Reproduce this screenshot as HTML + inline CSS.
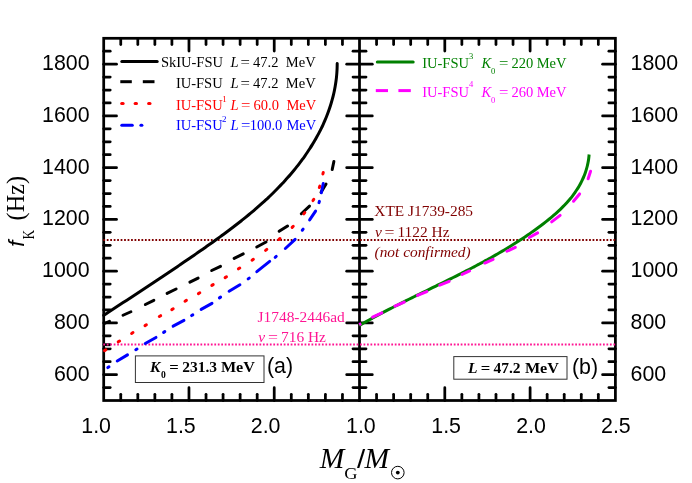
<!DOCTYPE html>
<html><head><meta charset="utf-8"><title>fK vs MG</title>
<style>html,body{margin:0;padding:0;background:#fff}svg{display:block;will-change:transform}</style></head>
<body>
<svg width="692" height="483" viewBox="0 0 692 483">
<rect width="692" height="483" fill="#fff"/>
<g stroke="#000" stroke-width="2.75" fill="none" stroke-linecap="round">
<line x1="120.75" y1="38.3" x2="120.75" y2="44.5"/>
<line x1="120.75" y1="400.5" x2="120.75" y2="394.3"/>
<line x1="137.81" y1="38.3" x2="137.81" y2="44.5"/>
<line x1="137.81" y1="400.5" x2="137.81" y2="394.3"/>
<line x1="154.86" y1="38.3" x2="154.86" y2="44.5"/>
<line x1="154.86" y1="400.5" x2="154.86" y2="394.3"/>
<line x1="171.91" y1="38.3" x2="171.91" y2="44.5"/>
<line x1="171.91" y1="400.5" x2="171.91" y2="394.3"/>
<line x1="188.97" y1="38.3" x2="188.97" y2="51.099999999999994"/>
<line x1="188.97" y1="400.5" x2="188.97" y2="387.7"/>
<line x1="206.02" y1="38.3" x2="206.02" y2="44.5"/>
<line x1="206.02" y1="400.5" x2="206.02" y2="394.3"/>
<line x1="223.07" y1="38.3" x2="223.07" y2="44.5"/>
<line x1="223.07" y1="400.5" x2="223.07" y2="394.3"/>
<line x1="240.13" y1="38.3" x2="240.13" y2="44.5"/>
<line x1="240.13" y1="400.5" x2="240.13" y2="394.3"/>
<line x1="257.18" y1="38.3" x2="257.18" y2="44.5"/>
<line x1="257.18" y1="400.5" x2="257.18" y2="394.3"/>
<line x1="274.23" y1="38.3" x2="274.23" y2="51.099999999999994"/>
<line x1="274.23" y1="400.5" x2="274.23" y2="387.7"/>
<line x1="291.29" y1="38.3" x2="291.29" y2="44.5"/>
<line x1="291.29" y1="400.5" x2="291.29" y2="394.3"/>
<line x1="308.34" y1="38.3" x2="308.34" y2="44.5"/>
<line x1="308.34" y1="400.5" x2="308.34" y2="394.3"/>
<line x1="325.39" y1="38.3" x2="325.39" y2="44.5"/>
<line x1="325.39" y1="400.5" x2="325.39" y2="394.3"/>
<line x1="342.45" y1="38.3" x2="342.45" y2="44.5"/>
<line x1="342.45" y1="400.5" x2="342.45" y2="394.3"/>
<line x1="376.56" y1="38.3" x2="376.56" y2="44.5"/>
<line x1="376.56" y1="400.5" x2="376.56" y2="394.3"/>
<line x1="393.62" y1="38.3" x2="393.62" y2="44.5"/>
<line x1="393.62" y1="400.5" x2="393.62" y2="394.3"/>
<line x1="410.68" y1="38.3" x2="410.68" y2="44.5"/>
<line x1="410.68" y1="400.5" x2="410.68" y2="394.3"/>
<line x1="427.74" y1="38.3" x2="427.74" y2="44.5"/>
<line x1="427.74" y1="400.5" x2="427.74" y2="394.3"/>
<line x1="444.80" y1="38.3" x2="444.80" y2="51.099999999999994"/>
<line x1="444.80" y1="400.5" x2="444.80" y2="387.7"/>
<line x1="461.86" y1="38.3" x2="461.86" y2="44.5"/>
<line x1="461.86" y1="400.5" x2="461.86" y2="394.3"/>
<line x1="478.92" y1="38.3" x2="478.92" y2="44.5"/>
<line x1="478.92" y1="400.5" x2="478.92" y2="394.3"/>
<line x1="495.98" y1="38.3" x2="495.98" y2="44.5"/>
<line x1="495.98" y1="400.5" x2="495.98" y2="394.3"/>
<line x1="513.04" y1="38.3" x2="513.04" y2="44.5"/>
<line x1="513.04" y1="400.5" x2="513.04" y2="394.3"/>
<line x1="530.10" y1="38.3" x2="530.10" y2="51.099999999999994"/>
<line x1="530.10" y1="400.5" x2="530.10" y2="387.7"/>
<line x1="547.16" y1="38.3" x2="547.16" y2="44.5"/>
<line x1="547.16" y1="400.5" x2="547.16" y2="394.3"/>
<line x1="564.22" y1="38.3" x2="564.22" y2="44.5"/>
<line x1="564.22" y1="400.5" x2="564.22" y2="394.3"/>
<line x1="581.28" y1="38.3" x2="581.28" y2="44.5"/>
<line x1="581.28" y1="400.5" x2="581.28" y2="394.3"/>
<line x1="598.34" y1="38.3" x2="598.34" y2="44.5"/>
<line x1="598.34" y1="400.5" x2="598.34" y2="394.3"/>
<line x1="103.7" y1="387.56" x2="110.2" y2="387.56"/>
<line x1="353.0" y1="387.56" x2="366.0" y2="387.56"/>
<line x1="608.9" y1="387.56" x2="615.4" y2="387.56"/>
<line x1="103.7" y1="374.63" x2="116.5" y2="374.63"/>
<line x1="346.7" y1="374.63" x2="372.3" y2="374.63"/>
<line x1="602.6" y1="374.63" x2="615.4" y2="374.63"/>
<line x1="103.7" y1="361.69" x2="110.2" y2="361.69"/>
<line x1="353.0" y1="361.69" x2="366.0" y2="361.69"/>
<line x1="608.9" y1="361.69" x2="615.4" y2="361.69"/>
<line x1="103.7" y1="348.76" x2="110.2" y2="348.76"/>
<line x1="353.0" y1="348.76" x2="366.0" y2="348.76"/>
<line x1="608.9" y1="348.76" x2="615.4" y2="348.76"/>
<line x1="103.7" y1="335.82" x2="110.2" y2="335.82"/>
<line x1="353.0" y1="335.82" x2="366.0" y2="335.82"/>
<line x1="608.9" y1="335.82" x2="615.4" y2="335.82"/>
<line x1="103.7" y1="322.89" x2="116.5" y2="322.89"/>
<line x1="346.7" y1="322.89" x2="372.3" y2="322.89"/>
<line x1="602.6" y1="322.89" x2="615.4" y2="322.89"/>
<line x1="103.7" y1="309.95" x2="110.2" y2="309.95"/>
<line x1="353.0" y1="309.95" x2="366.0" y2="309.95"/>
<line x1="608.9" y1="309.95" x2="615.4" y2="309.95"/>
<line x1="103.7" y1="297.01" x2="110.2" y2="297.01"/>
<line x1="353.0" y1="297.01" x2="366.0" y2="297.01"/>
<line x1="608.9" y1="297.01" x2="615.4" y2="297.01"/>
<line x1="103.7" y1="284.08" x2="110.2" y2="284.08"/>
<line x1="353.0" y1="284.08" x2="366.0" y2="284.08"/>
<line x1="608.9" y1="284.08" x2="615.4" y2="284.08"/>
<line x1="103.7" y1="271.14" x2="116.5" y2="271.14"/>
<line x1="346.7" y1="271.14" x2="372.3" y2="271.14"/>
<line x1="602.6" y1="271.14" x2="615.4" y2="271.14"/>
<line x1="103.7" y1="258.21" x2="110.2" y2="258.21"/>
<line x1="353.0" y1="258.21" x2="366.0" y2="258.21"/>
<line x1="608.9" y1="258.21" x2="615.4" y2="258.21"/>
<line x1="103.7" y1="245.27" x2="110.2" y2="245.27"/>
<line x1="353.0" y1="245.27" x2="366.0" y2="245.27"/>
<line x1="608.9" y1="245.27" x2="615.4" y2="245.27"/>
<line x1="103.7" y1="232.34" x2="110.2" y2="232.34"/>
<line x1="353.0" y1="232.34" x2="366.0" y2="232.34"/>
<line x1="608.9" y1="232.34" x2="615.4" y2="232.34"/>
<line x1="103.7" y1="219.40" x2="116.5" y2="219.40"/>
<line x1="346.7" y1="219.40" x2="372.3" y2="219.40"/>
<line x1="602.6" y1="219.40" x2="615.4" y2="219.40"/>
<line x1="103.7" y1="206.46" x2="110.2" y2="206.46"/>
<line x1="353.0" y1="206.46" x2="366.0" y2="206.46"/>
<line x1="608.9" y1="206.46" x2="615.4" y2="206.46"/>
<line x1="103.7" y1="193.53" x2="110.2" y2="193.53"/>
<line x1="353.0" y1="193.53" x2="366.0" y2="193.53"/>
<line x1="608.9" y1="193.53" x2="615.4" y2="193.53"/>
<line x1="103.7" y1="180.59" x2="110.2" y2="180.59"/>
<line x1="353.0" y1="180.59" x2="366.0" y2="180.59"/>
<line x1="608.9" y1="180.59" x2="615.4" y2="180.59"/>
<line x1="103.7" y1="167.66" x2="116.5" y2="167.66"/>
<line x1="346.7" y1="167.66" x2="372.3" y2="167.66"/>
<line x1="602.6" y1="167.66" x2="615.4" y2="167.66"/>
<line x1="103.7" y1="154.72" x2="110.2" y2="154.72"/>
<line x1="353.0" y1="154.72" x2="366.0" y2="154.72"/>
<line x1="608.9" y1="154.72" x2="615.4" y2="154.72"/>
<line x1="103.7" y1="141.79" x2="110.2" y2="141.79"/>
<line x1="353.0" y1="141.79" x2="366.0" y2="141.79"/>
<line x1="608.9" y1="141.79" x2="615.4" y2="141.79"/>
<line x1="103.7" y1="128.85" x2="110.2" y2="128.85"/>
<line x1="353.0" y1="128.85" x2="366.0" y2="128.85"/>
<line x1="608.9" y1="128.85" x2="615.4" y2="128.85"/>
<line x1="103.7" y1="115.91" x2="116.5" y2="115.91"/>
<line x1="346.7" y1="115.91" x2="372.3" y2="115.91"/>
<line x1="602.6" y1="115.91" x2="615.4" y2="115.91"/>
<line x1="103.7" y1="102.98" x2="110.2" y2="102.98"/>
<line x1="353.0" y1="102.98" x2="366.0" y2="102.98"/>
<line x1="608.9" y1="102.98" x2="615.4" y2="102.98"/>
<line x1="103.7" y1="90.04" x2="110.2" y2="90.04"/>
<line x1="353.0" y1="90.04" x2="366.0" y2="90.04"/>
<line x1="608.9" y1="90.04" x2="615.4" y2="90.04"/>
<line x1="103.7" y1="77.11" x2="110.2" y2="77.11"/>
<line x1="353.0" y1="77.11" x2="366.0" y2="77.11"/>
<line x1="608.9" y1="77.11" x2="615.4" y2="77.11"/>
<line x1="103.7" y1="64.17" x2="116.5" y2="64.17"/>
<line x1="346.7" y1="64.17" x2="372.3" y2="64.17"/>
<line x1="602.6" y1="64.17" x2="615.4" y2="64.17"/>
<line x1="103.7" y1="51.24" x2="110.2" y2="51.24"/>
<line x1="353.0" y1="51.24" x2="366.0" y2="51.24"/>
<line x1="608.9" y1="51.24" x2="615.4" y2="51.24"/>
</g>
<g stroke="#000" stroke-width="2.75" fill="none" stroke-linecap="square">
<rect x="103.7" y="38.3" width="511.7" height="362.2"/>
<line x1="359.5" y1="38.3" x2="359.5" y2="400.5"/>
</g>
<line x1="104" y1="344.6" x2="109.8" y2="344.6" stroke="#000" stroke-width="2.7" stroke-linecap="round"/><line x1="105.6" y1="347.0" x2="110.4" y2="347.0" stroke="#c4c4c4" stroke-width="1.4"/>
<line x1="103.3" y1="239.9" x2="615.4" y2="239.9" stroke="#800000" stroke-width="2" stroke-dasharray="1.75 1.72"/>
<line x1="103.3" y1="344.6" x2="615.4" y2="344.6" stroke="#ff1493" stroke-width="2" stroke-dasharray="1.75 1.72"/>
<path d="M103.81,315.31 C104.44,314.90 106.33,313.65 107.59,312.82 C108.85,311.99 110.11,311.16 111.37,310.33 C112.63,309.50 113.89,308.67 115.15,307.84 C116.41,307.01 117.68,306.18 118.94,305.35 C120.20,304.52 121.46,303.70 122.72,302.87 C123.97,302.04 125.23,301.21 126.49,300.38 C127.75,299.56 129.01,298.73 130.27,297.90 C131.53,297.07 132.79,296.24 134.05,295.42 C135.31,294.59 136.56,293.76 137.82,292.93 C139.08,292.10 140.34,291.27 141.59,290.44 C142.85,289.61 144.11,288.78 145.36,287.95 C146.62,287.12 147.88,286.29 149.13,285.46 C150.39,284.63 151.64,283.80 152.90,282.97 C154.15,282.14 155.41,281.30 156.66,280.47 C157.92,279.64 159.17,278.80 160.42,277.97 C161.68,277.13 162.93,276.30 164.18,275.46 C165.43,274.62 166.68,273.79 167.93,272.95 C169.19,272.11 170.44,271.27 171.69,270.43 C172.94,269.59 174.19,268.75 175.43,267.91 C176.68,267.06 177.93,266.22 179.18,265.37 C180.43,264.53 181.67,263.68 182.92,262.83 C184.16,261.99 185.41,261.14 186.66,260.29 C187.90,259.43 189.14,258.58 190.39,257.73 C191.63,256.87 192.87,256.02 194.12,255.16 C195.36,254.30 196.60,253.45 197.84,252.59 C199.08,251.73 200.32,250.86 201.56,250.00 C202.80,249.14 204.03,248.27 205.27,247.40 C206.51,246.53 207.74,245.66 208.98,244.79 C210.21,243.92 211.44,243.04 212.68,242.17 C213.91,241.29 215.14,240.41 216.36,239.53 C217.59,238.64 218.82,237.76 220.04,236.87 C221.26,235.98 222.48,235.08 223.70,234.19 C224.92,233.29 226.13,232.39 227.34,231.49 C228.56,230.59 229.76,229.68 230.97,228.77 C232.17,227.86 233.38,226.94 234.57,226.02 C235.77,225.10 236.97,224.18 238.16,223.25 C239.35,222.32 240.54,221.39 241.72,220.45 C242.90,219.51 244.08,218.57 245.25,217.62 C246.42,216.67 247.59,215.72 248.76,214.76 C249.92,213.80 251.08,212.83 252.23,211.86 C253.38,210.89 254.53,209.91 255.67,208.93 C256.82,207.95 257.95,206.96 259.08,205.97 C260.21,204.97 261.34,203.97 262.46,202.96 C263.58,201.96 264.69,200.94 265.79,199.92 C266.90,198.90 268.00,197.87 269.09,196.84 C270.18,195.80 271.27,194.76 272.35,193.71 C273.42,192.66 274.49,191.60 275.56,190.53 C276.62,189.47 277.67,188.40 278.72,187.32 C279.77,186.23 280.81,185.15 281.84,184.05 C282.87,182.95 283.90,181.85 284.91,180.73 C285.92,179.62 286.93,178.49 287.93,177.36 C288.93,176.23 289.91,175.09 290.89,173.94 C291.87,172.79 292.84,171.63 293.80,170.46 C294.76,169.29 295.71,168.12 296.65,166.93 C297.59,165.75 298.52,164.55 299.44,163.35 C300.36,162.14 301.27,160.93 302.16,159.71 C303.06,158.49 303.94,157.26 304.81,156.02 C305.68,154.78 306.54,153.54 307.39,152.28 C308.23,151.03 309.06,149.77 309.88,148.49 C310.70,147.22 311.51,145.94 312.30,144.66 C313.09,143.37 313.86,142.07 314.62,140.77 C315.38,139.47 316.13,138.16 316.86,136.84 C317.59,135.52 318.30,134.19 319.00,132.86 C319.70,131.52 320.38,130.18 321.05,128.83 C321.71,127.48 322.36,126.13 322.99,124.76 C323.62,123.40 324.23,122.03 324.82,120.65 C325.42,119.27 325.99,117.88 326.55,116.49 C327.10,115.10 327.64,113.70 328.16,112.29 C328.67,110.89 329.17,109.47 329.65,108.05 C330.13,106.63 330.58,105.21 331.02,103.77 C331.46,102.34 331.87,100.90 332.26,99.46 C332.66,98.01 333.03,96.56 333.38,95.10 C333.73,93.64 334.06,92.17 334.36,90.70 C334.66,89.23 334.94,87.75 335.20,86.27 C335.46,84.79 335.69,83.30 335.90,81.80 C336.11,80.31 336.30,78.81 336.46,77.30 C336.62,75.79 336.75,74.28 336.86,72.76 C336.97,71.25 337.06,69.72 337.11,68.19 C337.17,66.66 337.19,64.36 337.21,63.59" fill="none" stroke="#000" stroke-width="3" stroke-linecap="round"/>
<line x1="105.00" y1="323.25" x2="109.50" y2="321.25" stroke="#000" stroke-width="3" stroke-linecap="round"/>
<line x1="123.01" y1="315.25" x2="130.89" y2="311.75" stroke="#000" stroke-width="3" stroke-linecap="round"/>
<line x1="145.38" y1="304.51" x2="153.82" y2="300.29" stroke="#000" stroke-width="3" stroke-linecap="round"/>
<line x1="167.09" y1="293.32" x2="176.11" y2="288.98" stroke="#000" stroke-width="3" stroke-linecap="round"/>
<line x1="189.89" y1="282.12" x2="198.11" y2="278.08" stroke="#000" stroke-width="3" stroke-linecap="round"/>
<line x1="211.69" y1="270.52" x2="220.51" y2="266.28" stroke="#000" stroke-width="3" stroke-linecap="round"/>
<line x1="234.18" y1="258.41" x2="243.22" y2="253.89" stroke="#000" stroke-width="3" stroke-linecap="round"/>
<line x1="256.77" y1="246.98" x2="266.03" y2="242.02" stroke="#000" stroke-width="3" stroke-linecap="round"/>
<line x1="279.13" y1="231.31" x2="287.57" y2="225.99" stroke="#000" stroke-width="3" stroke-linecap="round"/>
<line x1="301.30" y1="213.75" x2="309.50" y2="206.05" stroke="#000" stroke-width="3" stroke-linecap="round"/>
<line x1="321.06" y1="192.35" x2="326.04" y2="183.95" stroke="#000" stroke-width="3" stroke-linecap="round"/>
<line x1="332.22" y1="169.52" x2="333.88" y2="161.48" stroke="#000" stroke-width="3" stroke-linecap="round"/>
<line x1="104.53" y1="350.63" x2="105.87" y2="349.77" stroke="#f00" stroke-width="3" stroke-linecap="round"/>
<line x1="118.22" y1="341.83" x2="119.58" y2="340.97" stroke="#f00" stroke-width="3" stroke-linecap="round"/>
<line x1="131.62" y1="333.41" x2="132.98" y2="332.59" stroke="#f00" stroke-width="3" stroke-linecap="round"/>
<line x1="145.02" y1="325.62" x2="146.38" y2="324.78" stroke="#f00" stroke-width="3" stroke-linecap="round"/>
<line x1="159.31" y1="316.51" x2="160.69" y2="315.69" stroke="#f00" stroke-width="3" stroke-linecap="round"/>
<line x1="171.81" y1="309.61" x2="173.19" y2="308.79" stroke="#f00" stroke-width="3" stroke-linecap="round"/>
<line x1="185.01" y1="301.21" x2="186.39" y2="300.39" stroke="#f00" stroke-width="3" stroke-linecap="round"/>
<line x1="198.41" y1="293.61" x2="199.79" y2="292.79" stroke="#f00" stroke-width="3" stroke-linecap="round"/>
<line x1="211.81" y1="285.41" x2="213.19" y2="284.59" stroke="#f00" stroke-width="3" stroke-linecap="round"/>
<line x1="225.12" y1="277.62" x2="226.48" y2="276.78" stroke="#f00" stroke-width="3" stroke-linecap="round"/>
<line x1="238.43" y1="268.83" x2="239.77" y2="267.97" stroke="#f00" stroke-width="3" stroke-linecap="round"/>
<line x1="252.04" y1="260.25" x2="253.36" y2="259.35" stroke="#f00" stroke-width="3" stroke-linecap="round"/>
<line x1="265.57" y1="250.39" x2="266.83" y2="249.41" stroke="#f00" stroke-width="3" stroke-linecap="round"/>
<line x1="278.80" y1="239.53" x2="280.00" y2="238.47" stroke="#f00" stroke-width="3" stroke-linecap="round"/>
<line x1="292.14" y1="227.37" x2="293.26" y2="226.23" stroke="#f00" stroke-width="3" stroke-linecap="round"/>
<line x1="303.81" y1="213.93" x2="304.79" y2="212.67" stroke="#f00" stroke-width="3" stroke-linecap="round"/>
<line x1="313.00" y1="200.59" x2="313.80" y2="199.21" stroke="#f00" stroke-width="3" stroke-linecap="round"/>
<line x1="319.33" y1="187.55" x2="319.87" y2="186.05" stroke="#f00" stroke-width="3" stroke-linecap="round"/>
<line x1="322.90" y1="173.97" x2="323.30" y2="172.43" stroke="#f00" stroke-width="3" stroke-linecap="round"/>
<line x1="117.22" y1="360.94" x2="127.48" y2="354.86" stroke="#00f" stroke-width="3" stroke-linecap="round"/>
<line x1="145.23" y1="343.56" x2="155.97" y2="337.44" stroke="#00f" stroke-width="3" stroke-linecap="round"/>
<line x1="173.15" y1="326.19" x2="183.95" y2="320.41" stroke="#00f" stroke-width="3" stroke-linecap="round"/>
<line x1="201.14" y1="309.37" x2="211.96" y2="303.33" stroke="#00f" stroke-width="3" stroke-linecap="round"/>
<line x1="229.11" y1="291.23" x2="239.89" y2="284.77" stroke="#00f" stroke-width="3" stroke-linecap="round"/>
<line x1="256.82" y1="271.69" x2="269.68" y2="261.41" stroke="#00f" stroke-width="3" stroke-linecap="round"/>
<line x1="285.35" y1="248.51" x2="295.15" y2="239.39" stroke="#00f" stroke-width="3" stroke-linecap="round"/>
<line x1="309.63" y1="219.92" x2="315.57" y2="211.08" stroke="#00f" stroke-width="3" stroke-linecap="round"/>
<line x1="321.36" y1="192.73" x2="323.24" y2="183.47" stroke="#00f" stroke-width="3" stroke-linecap="round"/>
<line x1="107.82" y1="367.59" x2="108.98" y2="366.81" stroke="#00f" stroke-width="3" stroke-linecap="round"/>
<line x1="135.80" y1="349.77" x2="137.00" y2="349.03" stroke="#00f" stroke-width="3" stroke-linecap="round"/>
<line x1="163.60" y1="332.37" x2="164.80" y2="331.63" stroke="#00f" stroke-width="3" stroke-linecap="round"/>
<line x1="191.60" y1="315.56" x2="192.80" y2="314.84" stroke="#00f" stroke-width="3" stroke-linecap="round"/>
<line x1="219.41" y1="297.88" x2="220.59" y2="297.12" stroke="#00f" stroke-width="3" stroke-linecap="round"/>
<line x1="248.14" y1="278.92" x2="249.26" y2="278.08" stroke="#00f" stroke-width="3" stroke-linecap="round"/>
<line x1="275.16" y1="257.35" x2="276.24" y2="256.45" stroke="#00f" stroke-width="3" stroke-linecap="round"/>
<line x1="302.27" y1="230.25" x2="303.13" y2="229.15" stroke="#00f" stroke-width="3" stroke-linecap="round"/>
<line x1="318.97" y1="202.66" x2="319.43" y2="201.34" stroke="#00f" stroke-width="3" stroke-linecap="round"/>
<path d="M359.20,325.61 C359.75,325.29 361.37,324.35 362.46,323.73 C363.55,323.11 364.64,322.50 365.73,321.88 C366.82,321.27 367.91,320.66 369.01,320.05 C370.10,319.44 371.20,318.84 372.30,318.24 C373.39,317.64 374.49,317.04 375.59,316.44 C376.69,315.85 377.79,315.26 378.90,314.67 C380.00,314.08 381.11,313.49 382.21,312.91 C383.32,312.32 384.43,311.74 385.53,311.16 C386.64,310.58 387.75,310.00 388.86,309.43 C389.97,308.85 391.09,308.28 392.20,307.71 C393.31,307.14 394.42,306.57 395.54,306.00 C396.65,305.43 397.77,304.87 398.89,304.30 C400.00,303.74 401.12,303.18 402.24,302.62 C403.36,302.06 404.47,301.50 405.59,300.94 C406.71,300.38 407.83,299.82 408.95,299.27 C410.07,298.71 411.19,298.15 412.32,297.60 C413.44,297.05 414.56,296.49 415.68,295.94 C416.80,295.39 417.93,294.84 419.05,294.28 C420.17,293.73 421.29,293.18 422.42,292.63 C423.54,292.08 424.66,291.53 425.79,290.98 C426.91,290.43 428.03,289.88 429.16,289.33 C430.28,288.78 431.40,288.23 432.53,287.68 C433.65,287.13 434.77,286.58 435.90,286.03 C437.02,285.48 438.14,284.93 439.26,284.38 C440.39,283.83 441.51,283.28 442.63,282.72 C443.75,282.17 444.87,281.62 445.99,281.06 C447.12,280.51 448.24,279.95 449.36,279.40 C450.48,278.84 451.59,278.28 452.71,277.72 C453.83,277.17 454.95,276.61 456.07,276.04 C457.18,275.48 458.30,274.92 459.42,274.36 C460.53,273.79 461.65,273.23 462.76,272.66 C463.87,272.09 464.99,271.52 466.10,270.95 C467.21,270.38 468.32,269.81 469.43,269.23 C470.54,268.65 471.65,268.08 472.75,267.50 C473.86,266.92 474.97,266.33 476.07,265.75 C477.18,265.16 478.28,264.58 479.38,263.99 C480.48,263.40 481.58,262.80 482.68,262.21 C483.78,261.61 484.88,261.02 485.97,260.41 C487.07,259.81 488.16,259.21 489.26,258.60 C490.35,257.99 491.44,257.38 492.53,256.77 C493.62,256.15 494.70,255.54 495.79,254.92 C496.87,254.29 497.96,253.67 499.04,253.04 C500.12,252.41 501.20,251.78 502.28,251.14 C503.36,250.51 504.43,249.87 505.50,249.22 C506.58,248.58 507.65,247.93 508.72,247.28 C509.79,246.63 510.85,245.97 511.92,245.31 C512.98,244.65 514.04,243.98 515.10,243.31 C516.16,242.64 517.22,241.97 518.27,241.29 C519.33,240.61 520.38,239.92 521.43,239.23 C522.48,238.54 523.53,237.85 524.57,237.15 C525.61,236.45 526.66,235.75 527.69,235.04 C528.73,234.33 529.77,233.61 530.80,232.89 C531.83,232.17 532.86,231.44 533.89,230.71 C534.92,229.98 535.94,229.24 536.96,228.50 C537.98,227.75 539.00,227.00 540.02,226.25 C541.03,225.49 542.04,224.73 543.05,223.96 C544.05,223.19 545.05,222.42 546.05,221.64 C547.04,220.85 548.03,220.06 549.01,219.27 C549.99,218.47 550.97,217.67 551.93,216.85 C552.90,216.04 553.85,215.22 554.80,214.39 C555.74,213.56 556.68,212.72 557.61,211.87 C558.53,211.03 559.44,210.17 560.34,209.30 C561.24,208.44 562.13,207.56 563.01,206.68 C563.88,205.79 564.74,204.90 565.59,203.99 C566.43,203.09 567.26,202.17 568.08,201.24 C568.89,200.31 569.69,199.38 570.47,198.43 C571.25,197.47 572.01,196.51 572.75,195.54 C573.50,194.57 574.22,193.58 574.92,192.58 C575.63,191.59 576.31,190.58 576.97,189.55 C577.64,188.53 578.28,187.49 578.90,186.44 C579.51,185.39 580.11,184.33 580.68,183.25 C581.25,182.18 581.80,181.08 582.32,179.98 C582.84,178.87 583.34,177.75 583.81,176.62 C584.28,175.49 584.72,174.34 585.14,173.17 C585.55,172.01 585.94,170.83 586.30,169.63 C586.66,168.43 586.99,167.22 587.29,165.99 C587.59,164.77 587.86,163.52 588.10,162.26 C588.33,161.00 588.54,159.72 588.71,158.43 C588.88,157.13 589.06,155.14 589.13,154.49" fill="none" stroke="#008000" stroke-width="3" stroke-linecap="butt"/>
<line x1="359.20" y1="324.60" x2="361.20" y2="323.60" stroke="#f0f" stroke-width="3" stroke-linecap="butt"/>
<line x1="372.60" y1="317.14" x2="381.90" y2="312.86" stroke="#f0f" stroke-width="3" stroke-linecap="round"/>
<line x1="394.91" y1="306.17" x2="404.29" y2="302.13" stroke="#f0f" stroke-width="3" stroke-linecap="round"/>
<line x1="417.51" y1="295.47" x2="426.79" y2="291.53" stroke="#f0f" stroke-width="3" stroke-linecap="round"/>
<line x1="439.82" y1="285.10" x2="449.18" y2="281.40" stroke="#f0f" stroke-width="3" stroke-linecap="round"/>
<line x1="462.10" y1="274.35" x2="469.60" y2="270.95" stroke="#f0f" stroke-width="3" stroke-linecap="round"/>
<line x1="484.80" y1="263.05" x2="493.10" y2="259.35" stroke="#f0f" stroke-width="3" stroke-linecap="round"/>
<line x1="506.90" y1="251.24" x2="515.30" y2="247.36" stroke="#f0f" stroke-width="3" stroke-linecap="round"/>
<line x1="529.27" y1="237.47" x2="537.63" y2="232.93" stroke="#f0f" stroke-width="3" stroke-linecap="round"/>
<line x1="551.67" y1="221.93" x2="560.13" y2="215.37" stroke="#f0f" stroke-width="3" stroke-linecap="round"/>
<line x1="573.50" y1="201.25" x2="579.60" y2="193.95" stroke="#f0f" stroke-width="3" stroke-linecap="round"/>
<line x1="588.14" y1="178.75" x2="590.56" y2="171.25" stroke="#f0f" stroke-width="3" stroke-linecap="round"/>
<g font-family="Liberation Sans, sans-serif" font-size="23" fill="#000">
<text transform="translate(89.6,380.6) scale(0.93,1)" text-anchor="end">600</text>
<text transform="translate(630.6,380.6) scale(0.93,1)" >600</text>
<text transform="translate(89.6,328.9) scale(0.93,1)" text-anchor="end">800</text>
<text transform="translate(630.6,328.9) scale(0.93,1)" >800</text>
<text transform="translate(89.6,277.1) scale(0.93,1)" text-anchor="end">1000</text>
<text transform="translate(630.6,277.1) scale(0.93,1)" >1000</text>
<text transform="translate(89.6,225.4) scale(0.93,1)" text-anchor="end">1200</text>
<text transform="translate(630.6,225.4) scale(0.93,1)" >1200</text>
<text transform="translate(89.6,173.7) scale(0.93,1)" text-anchor="end">1400</text>
<text transform="translate(630.6,173.7) scale(0.93,1)" >1400</text>
<text transform="translate(89.6,121.9) scale(0.93,1)" text-anchor="end">1600</text>
<text transform="translate(630.6,121.9) scale(0.93,1)" >1600</text>
<text transform="translate(89.6,70.2) scale(0.93,1)" text-anchor="end">1800</text>
<text transform="translate(630.6,70.2) scale(0.93,1)" >1800</text>
<text transform="translate(81.3,433.4) scale(0.93,1)" >1.0</text>
<text transform="translate(166.0,433.4) scale(0.93,1)" >1.5</text>
<text transform="translate(250.8,433.4) scale(0.93,1)" >2.0</text>
<text transform="translate(346.0,433.4) scale(0.93,1)" >1.0</text>
<text transform="translate(431.3,433.4) scale(0.93,1)" >1.5</text>
<text transform="translate(516.2,433.4) scale(0.93,1)" >2.0</text>
<text transform="translate(601.0,433.4) scale(0.93,1)" >2.5</text>
<text transform="translate(267,373.2) scale(0.93,1)" >(a)</text>
<text transform="translate(572,373.6) scale(0.93,1)" >(b)</text>
</g>
<g font-family="Liberation Serif, serif" fill="#000">
<g transform="translate(23.8,247) rotate(-90)"><text x="0.3" y="0" font-size="22" font-family="Liberation Sans, sans-serif" font-style="italic">f</text><text transform="translate(7.4,10.1) scale(0.82,1)" font-size="16.3">K</text><text transform="translate(26.6,0) scale(0.935,1)" font-size="26">(Hz)</text></g>
<text x="319.8" y="468" font-size="29.5" font-style="italic">M</text>
<text transform="translate(344.2,478.6) scale(1.07,1)" font-size="17.2">G</text>
<text transform="translate(356.9,468) scale(1.12,1)" font-size="26.4" font-family="Liberation Sans, sans-serif">/</text>
<text x="364.5" y="468" font-size="29.5" font-style="italic">M</text>
<circle cx="397.8" cy="472.6" r="6.3" fill="none" stroke="#000" stroke-width="1"/><circle cx="397.8" cy="472.6" r="1.9" fill="#000"/>
</g>
<g font-family="Liberation Serif, serif" font-size="14.5">
<line x1="121.8" y1="61.6" x2="157.2" y2="61.6" stroke="#000" stroke-width="3" stroke-linecap="round"/>
<line x1="120.3" y1="81.7" x2="131.8" y2="81.7" stroke="#000" stroke-width="3"/><line x1="142.8" y1="81.7" x2="154.5" y2="81.7" stroke="#000" stroke-width="3"/>
<line x1="121.7" y1="103.5" x2="123.10000000000001" y2="103.5" stroke="#f00" stroke-width="3" stroke-linecap="round"/>
<line x1="135.10000000000002" y1="103.5" x2="136.5" y2="103.5" stroke="#f00" stroke-width="3" stroke-linecap="round"/>
<line x1="148.60000000000002" y1="103.5" x2="150.0" y2="103.5" stroke="#f00" stroke-width="3" stroke-linecap="round"/>
<line x1="121.8" y1="125.3" x2="132.3" y2="125.3" stroke="#00f" stroke-width="3" stroke-linecap="round"/><line x1="140.9" y1="125.3" x2="141.9" y2="125.3" stroke="#00f" stroke-width="3" stroke-linecap="round"/>
<g fill="#000"><text transform="translate(160.9,67.2) scale(1.0,1)" >SkIU-FSU</text><text transform="translate(230.4,67.2) scale(1.0,1)" font-style="italic">L</text><text transform="translate(240.5,67.2) scale(1.15,1)" >=</text><text transform="translate(253,67.2) scale(1.0,1)" >47.2</text><text transform="translate(285.8,67.2) scale(1.0,1)" >MeV</text></g>
<g fill="#000"><text transform="translate(175.9,88.0) scale(1.0,1)" >IU-FSU</text><text transform="translate(230.4,88.0) scale(1.0,1)" font-style="italic">L</text><text transform="translate(240.5,88.0) scale(1.15,1)" >=</text><text transform="translate(253,88.0) scale(1.0,1)" >47.2</text><text transform="translate(285.8,88.0) scale(1.0,1)" >MeV</text></g>
<g fill="#f00"><text transform="translate(175.9,109.8) scale(1.0,1)" >IU-FSU</text><text transform="translate(222.3,101.6) scale(1.0,1)" font-size="9">1</text><text transform="translate(230.4,109.8) scale(1.0,1)" font-style="italic">L</text><text transform="translate(240.9,109.8) scale(1.15,1)" >=</text><text transform="translate(253.6,109.8) scale(1.0,1)" >60.0</text><text transform="translate(286.4,109.8) scale(1.0,1)" >MeV</text></g>
<g fill="#00f"><text transform="translate(175.9,130.2) scale(1.0,1)" >IU-FSU</text><text transform="translate(222.0,122.2) scale(1.0,1)" font-size="9">2</text><text transform="translate(230.4,130.2) scale(1.0,1)" font-style="italic">L</text><text transform="translate(240.9,130.2) scale(1.15,1)" >=</text><text transform="translate(249.7,130.2) scale(1.0,1)" >100.0</text><text transform="translate(286.4,130.2) scale(1.0,1)" >MeV</text></g>
<line x1="377.3" y1="62" x2="413.2" y2="62" stroke="#008000" stroke-width="3" stroke-linecap="round"/>
<line x1="375.8" y1="90.6" x2="388" y2="90.6" stroke="#f0f" stroke-width="3"/><line x1="398.4" y1="90.6" x2="410.8" y2="90.6" stroke="#f0f" stroke-width="3"/>
<g fill="#008000"><text transform="translate(422.2,68.3) scale(1.0,1)" >IU-FSU</text><text transform="translate(469,59) scale(1.0,1)" font-size="8.5">3</text><text transform="translate(481.5,68.3) scale(1.0,1)" font-style="italic">K</text><text transform="translate(491,74.4) scale(1.0,1)" font-size="8.5">0</text><text transform="translate(498.9,68.3) scale(1.15,1)" >=</text><text transform="translate(511.5,68.3) scale(1.0,1)" >220</text><text transform="translate(536.7,68.3) scale(1.0,1)" >MeV</text></g>
<g fill="#f0f"><text transform="translate(422.2,96.6) scale(1.0,1)" >IU-FSU</text><text transform="translate(469,87.3) scale(1.0,1)" font-size="8.5">4</text><text transform="translate(481.5,96.6) scale(1.0,1)" font-style="italic">K</text><text transform="translate(491,102.7) scale(1.0,1)" font-size="8.5">0</text><text transform="translate(498.9,96.6) scale(1.15,1)" >=</text><text transform="translate(511.5,96.6) scale(1.0,1)" >260</text><text transform="translate(536.7,96.6) scale(1.0,1)" >MeV</text></g>
<g fill="#800000" font-size="15.4"><text transform="translate(374.3,216.2) scale(1.0,1)" >XTE J1739-285</text><text transform="translate(375,236.7) scale(1.0,1)" font-style="italic">ν</text><text transform="translate(384.6,236.7) scale(1.15,1)" >=</text><text transform="translate(397.5,236.7) scale(1.0,1)" >1122 Hz</text><text transform="translate(374.5,256.8) scale(1.0,1)" font-style="italic">(not confirmed)</text></g>
<g fill="#ff1493" font-size="15.4"><text transform="translate(257.6,322.0) scale(1.0,1)" >J1748-2446ad</text><text transform="translate(258.3,341.8) scale(1.0,1)" font-style="italic">ν</text><text transform="translate(267.9,341.8) scale(1.15,1)" >=</text><text transform="translate(281.0,341.8) scale(1.0,1)" >716 Hz</text></g>
</g>
<rect x="135.4" y="355.9" width="128.6" height="26.6" fill="#fff" stroke="#333" stroke-width="1"/>
<rect x="453.8" y="356.6" width="113.2" height="22.6" fill="#fff" stroke="#333" stroke-width="1"/>
<g font-family="Liberation Serif, serif" font-size="15.5" font-weight="bold" fill="#000">
<text transform="translate(150.1,371.8) scale(1.0,1)" font-style="italic">K</text><text transform="translate(161.0,378.4) scale(1.0,1)" font-size="9.6">0</text><text transform="translate(169.2,371.8) scale(1.08,1)" >=</text><text transform="translate(182.2,371.8) scale(1.0,1)" >231.3</text><text transform="translate(220.9,371.8) scale(1.04,1)" >MeV</text>
<text transform="translate(468.0,373.1) scale(1.0,1)" font-style="italic">L</text><text transform="translate(480.8,373.1) scale(1.08,1)" >=</text><text transform="translate(493.4,373.1) scale(1.0,1)" >47.2</text><text transform="translate(524.9,373.1) scale(1.04,1)" >MeV</text>
</g>
</svg>
</body></html>
